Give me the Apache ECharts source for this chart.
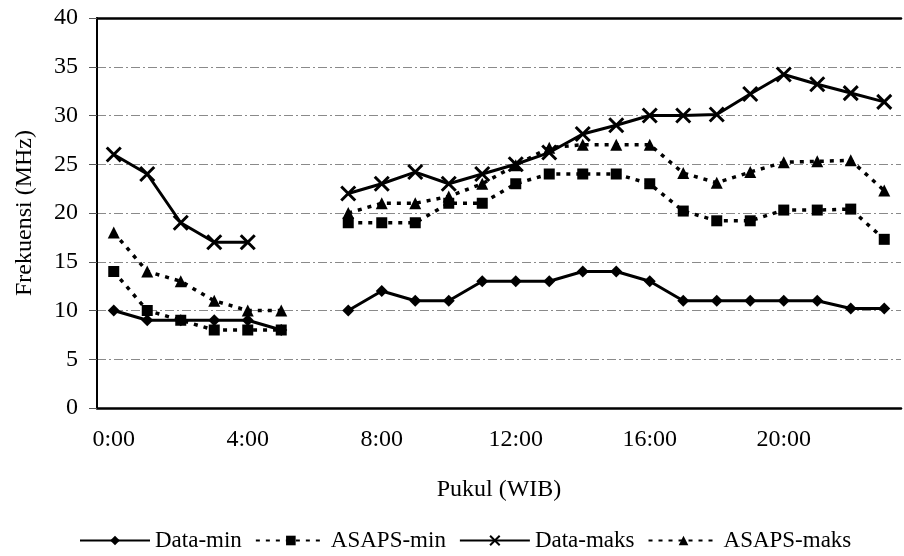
<!DOCTYPE html>
<html>
<head>
<meta charset="utf-8">
<script src="https://cdn.jsdelivr.net/npm/echarts@6/dist/echarts.min.js"></script>
<style>
html,body{margin:0;padding:0;background:#fff;}
#c{width:904px;height:556px;}
</style>
</head>
<body>
<div id="c"></div>
<script>
const hours = ['0:00','1:00','2:00','3:00','4:00','5:00','6:00','7:00','8:00','9:00','10:00','11:00','12:00','13:00','14:00','15:00','16:00','17:00','18:00','19:00','20:00','21:00','22:00','23:00'];
const dataMin   = [10,9,9,9,9,8,null,10,12,11,11,13,13,13,14,14,13,11,11,11,11,11,10.2,10.2];
const asapsMin  = [14,10,9,8,8,8,null,19,19,19,21,21,23,24,24,24,23,20.2,19.2,19.2,20.3,20.3,20.4,17.3];
const dataMaks  = [26,24,19,17,17,null,null,22,23,24.2,23,24,25,26.2,28.1,29,30,30,30.1,32.2,34.2,33.2,32.3,31.4];
const asapsMaks = [18,14,13,11,10,10,null,20,21,21,21.7,23,24.9,26.7,27,27,27,24.1,23.1,24.2,25.2,25.3,25.4,22.3];
const seriesNames = ['Data-min','ASAPS-min','Data-maks','ASAPS-maks'];

const FONT = "'Liberation Serif','Times New Roman',serif";
const chart = echarts.init(document.getElementById('c'), null, {renderer:'canvas'});
const crossPath = 'path://M0 0L10 10M10 0L0 10';
chart.setOption({
  animation:false,
  backgroundColor:'#fff',
  textStyle:{fontFamily:FONT,color:'#000'},
  grid:{left:97,right:3,top:18,bottom:148},
  legend:{
    left:74, top:524,
    itemWidth:70, itemHeight:12, itemGap:13,
    textStyle:{fontFamily:FONT,fontSize:23,color:'#000'},
    data:seriesNames
  },
  xAxis:[{
    type:'category', data:hours, boundaryGap:true,
    axisLine:{lineStyle:{color:'#000',width:2.5}},
    axisTick:{interval:1,length:6,lineStyle:{color:'#000',width:1.5}},
    axisLabel:{interval:3,fontFamily:FONT,fontSize:24,color:'#000',margin:20},
    name:'Pukul (WIB)', nameLocation:'middle', nameGap:70,
    nameTextStyle:{fontFamily:FONT,fontSize:24,color:'#000'}
  },{
    type:'category', data:hours, position:'top',
    axisLine:{show:true,lineStyle:{color:'#000',width:2.5}},
    axisTick:{show:false}, axisLabel:{show:false}
  }],
  yAxis:{
    type:'value', min:0, max:40, interval:5,
    axisLine:{show:true,lineStyle:{color:'#000',width:2}},
    axisTick:{show:true,length:8,lineStyle:{color:'#555',width:1}},
    axisLabel:{fontFamily:FONT,fontSize:24,color:'#000',margin:19},
    splitLine:{show:true,lineStyle:{color:'#8a8a8a',width:1,type:[9,3,2,3]}},
    name:'Frekuensi (MHz)', nameLocation:'middle', nameGap:60, nameRotate:90,
    nameTextStyle:{fontFamily:FONT,fontSize:24,color:'#000'}
  },
  series:[
    {name:seriesNames[0], type:'line', data:dataMin, symbol:'diamond', symbolSize:12,
     lineStyle:{color:'#000',width:3}, itemStyle:{color:'#000'}},
    {name:seriesNames[1], type:'line', data:asapsMin, symbol:'rect', symbolSize:11,
     lineStyle:{color:'#000',width:3.5,type:[4,6]}, itemStyle:{color:'#000'}},
    {name:seriesNames[2], type:'line', data:dataMaks, symbol:crossPath, symbolSize:14,
     lineStyle:{color:'#000',width:3}, itemStyle:{color:'#000',borderColor:'#000',borderWidth:3}},
    {name:seriesNames[3], type:'line', data:asapsMaks, symbol:'triangle', symbolSize:12,
     lineStyle:{color:'#000',width:3.5,type:[4,6]}, itemStyle:{color:'#000'}}
  ]
});
</script>
</body>
</html>
